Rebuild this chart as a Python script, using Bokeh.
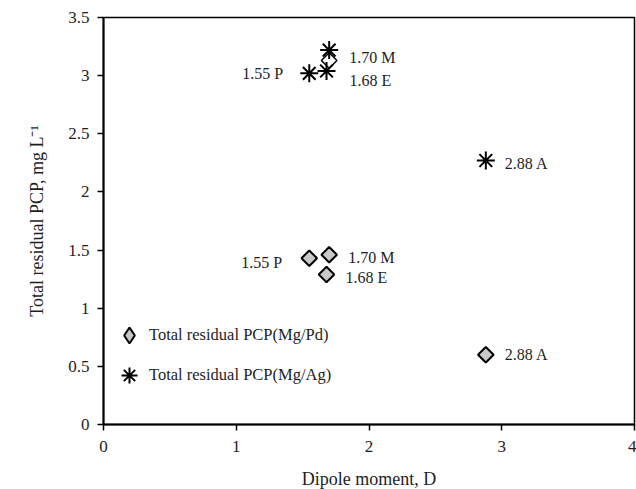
from bokeh.plotting import figure
from bokeh.models import ColumnDataSource, Legend, LegendItem, FixedTicker, CustomJSTickFormatter, Range1d
from bokeh.core.properties import value
from bokeh.embed import file_html
from bokeh.resources import INLINE
import math

# Data
pd_dipole = [1.55, 1.70, 1.68, 2.88]
pd_residual = [1.43, 1.46, 1.29, 0.60]
pd_labels = ["1.55 P", "1.70 M", "1.68 E", "2.88 A"]

ag_dipole = [1.55, 1.70, 1.68, 2.88]
ag_residual = [3.02, 3.22, 3.04, 2.27]
ag_labels = ["1.55 P", "1.70 M", "1.68 E", "2.88 A"]

extra_dipole = [1.70]
extra_residual = [3.13]

series_names = ["Total residual PCP(Mg/Pd)", "Total residual PCP(Mg/Ag)"]

x_ticks = [0, 1, 2, 3, 4]
y_ticks = [0, 0.5, 1, 1.5, 2, 2.5, 3, 3.5]

FONT = "Liberation Serif"
TXT = "#1e1e1e"

p = figure(width=636, height=489, output_backend="svg", toolbar_location=None,
           x_range=Range1d(0, 4), y_range=Range1d(0, 3.5),
           min_border_left=103, min_border_right=2, min_border_top=17, min_border_bottom=65)
p.frame_width = 531
p.frame_height = 407
p.grid.visible = False
p.outline_line_color = "black"
p.outline_line_width = 1.5
p.background_fill_color = "white"
p.border_fill_color = "white"

for ax in (p.xaxis[0], p.yaxis[0]):
    ax.minor_tick_line_color = None
    ax.major_tick_in = 0
    ax.major_tick_out = 6
    ax.axis_line_width = 2
    ax.major_tick_line_width = 1.5
    ax.major_label_text_font = FONT
    ax.major_label_text_font_size = "17px"
    ax.major_label_text_color = TXT
    ax.axis_label_text_font = FONT
    ax.axis_label_text_font_size = "18px"
    ax.axis_label_text_font_style = "normal"
    ax.axis_label_text_color = TXT
    ax.formatter = CustomJSTickFormatter(code="return tick.toString();")

p.xaxis[0].ticker = FixedTicker(ticks=x_ticks)
p.yaxis[0].ticker = FixedTicker(ticks=y_ticks)
p.xaxis[0].axis_label = "Dipole moment, D"
p.yaxis[0].axis_label = "Total residual PCP, mg L\u207b\u00b9"
p.xaxis[0].major_label_standoff = 10
p.yaxis[0].major_label_standoff = 8
p.xaxis[0].axis_label_standoff = 14
p.yaxis[0].axis_label_standoff = 18

src_pd = ColumnDataSource(dict(x=pd_dipole, y=pd_residual, t=pd_labels))
src_ag = ColumnDataSource(dict(x=ag_dipole, y=ag_residual, t=ag_labels))

# diamond-marker renderer (used for the legend symbol; hidden under the rotated squares)
r_pd_leg = p.scatter("x", "y", source=src_pd, marker="diamond", size=14,
                     fill_color="#c8c8c8", line_color="black", line_width=2)
p.scatter("x", "y", source=src_pd, marker="square", angle=math.pi / 4, size=11,
          fill_color="#c8c8c8", line_color="black", line_width=2)
p.scatter(extra_dipole, extra_residual, marker="square", angle=math.pi / 4, size=11,
          fill_color="white", line_color="black", line_width=1.5)
r_ag = p.scatter("x", "y", source=src_ag, marker="asterisk", size=18,
                 line_color="black", line_width=2)

# label offsets (screen px) per point: P, M, E, A
pd_xoff = [-27, 19, 19, 19]
pd_yoff = [4, 3, 3, 0]
pd_align = ["right", "left", "left", "left"]
ag_xoff = [-26, 20, 23, 19]
ag_yoff = [0, 7, 10, 3]
ag_align = ["right", "left", "left", "left"]

for src, xo, yo, al in ((src_pd, pd_xoff, pd_yoff, pd_align), (src_ag, ag_xoff, ag_yoff, ag_align)):
    for i in range(4):
        d = src.data
        p.text([d["x"][i]], [d["y"][i]], text=[d["t"][i]], x_offset=xo[i], y_offset=yo[i],
               text_align=al[i], text_baseline="middle", text_font=value(FONT),
               text_font_size="16px", text_color=TXT)

legend = Legend(items=[
    LegendItem(label=series_names[0], renderers=[r_pd_leg]),
    LegendItem(label=series_names[1], renderers=[r_ag]),
], location=(6, 29))
legend.border_line_color = None
legend.background_fill_alpha = 0
legend.label_text_font = FONT
legend.label_text_font_size = "16.5px"
legend.label_text_color = TXT
legend.glyph_width = 40
legend.glyph_height = 40
legend.label_height = 40
legend.label_standoff = -4
legend.spacing = -3
legend.padding = 2
legend.margin = 0
p.add_layout(legend)

open("out.html", "w").write(file_html(p, INLINE))
